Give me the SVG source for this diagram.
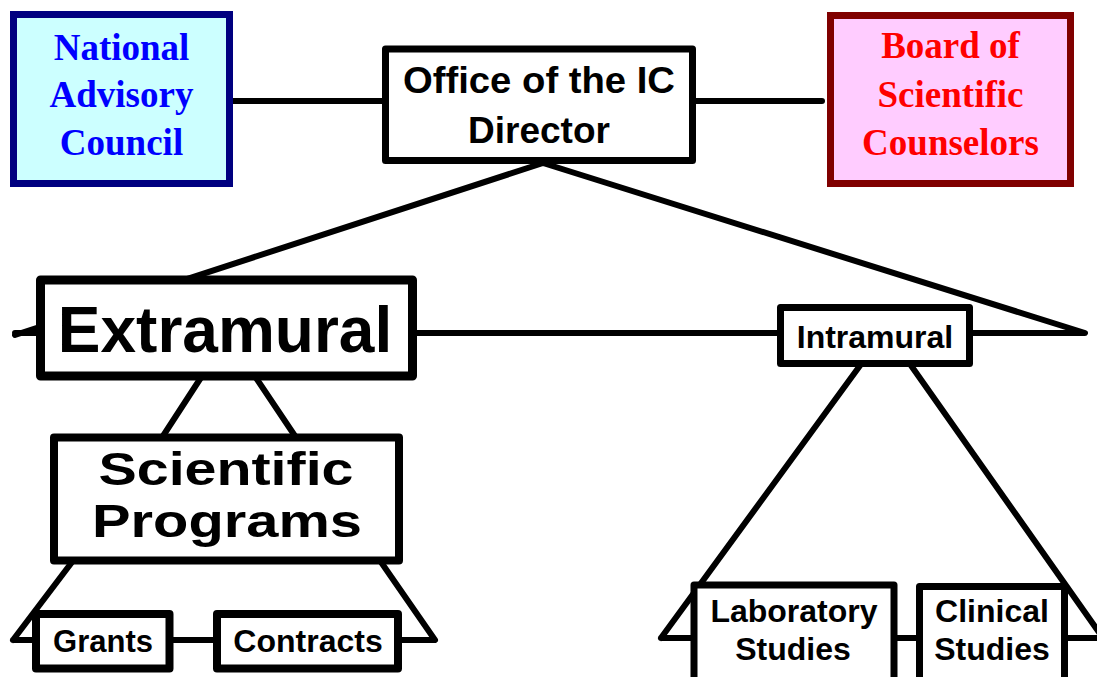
<svg xmlns="http://www.w3.org/2000/svg" width="1097" height="677" viewBox="0 0 1097 677">
<style>
.ln{stroke:#000;stroke-width:6;fill:none;stroke-linecap:round;stroke-linejoin:round}
.bx{fill:#fff;stroke:#000;stroke-linejoin:round}
.t{font-family:"Liberation Sans",Arial,sans-serif;font-weight:bold;fill:#000;text-anchor:middle}
.s{font-family:"Liberation Serif","Times New Roman",serif;font-weight:bold;text-anchor:middle}
</style>
<rect width="1097" height="677" fill="#fff"/>
<g id="connectors">
<line class="ln" x1="233" y1="101" x2="822" y2="101"/>
<polyline class="ln" points="15,335 543,163 1085,333 15,333"/>
<polyline class="ln" points="163,436 228,336 295,436"/>
<polyline class="ln" points="13,640 119,500 338,500 435,640 13,640"/>
<polyline class="ln" points="661,638 886,330 1103,638 661,638"/>
</g>
<g id="nac">
<rect x="13.5" y="14.5" width="216" height="169" fill="#ccffff" stroke="#000080" stroke-width="7"/>
<text class="s" fill="#0000ff" font-size="37" x="121.5" y="60">National</text>
<text class="s" fill="#0000ff" font-size="37" x="121.5" y="107">Advisory</text>
<text class="s" fill="#0000ff" font-size="37" x="121.5" y="155">Council</text>
</g>
<g id="bsc">
<rect x="830.5" y="15.5" width="240" height="168" fill="#ffccff" stroke="#800000" stroke-width="7"/>
<text class="s" fill="#ff0000" font-size="37" x="950.5" y="58">Board of</text>
<text class="s" fill="#ff0000" font-size="37" x="950.5" y="107">Scientific</text>
<text class="s" fill="#ff0000" font-size="37" x="950.5" y="155">Counselors</text>
</g>
<g id="office">
<rect class="bx" x="385.5" y="49" width="307" height="111.5" stroke-width="7"/>
<text class="t" font-size="37" x="539" y="93" textLength="272" lengthAdjust="spacingAndGlyphs">Office of the IC</text>
<text class="t" font-size="37" x="539" y="143">Director</text>
</g>
<g id="extramural">
<rect class="bx" x="40.5" y="280" width="372" height="96" stroke-width="9"/>
<text class="t" font-size="64" x="225" y="352">Extramural</text>
</g>
<g id="intramural">
<rect class="bx" x="780.5" y="307.5" width="189" height="56" stroke-width="7"/>
<text class="t" font-size="32" x="875" y="348">Intramural</text>
</g>
<g id="scientific-programs">
<rect class="bx" x="54" y="437.5" width="345" height="123" stroke-width="8"/>
<text class="t" font-size="46" x="226" y="485" textLength="255" lengthAdjust="spacingAndGlyphs">Scientific</text>
<text class="t" font-size="46" x="227" y="537" textLength="270" lengthAdjust="spacingAndGlyphs">Programs</text>
</g>
<g id="grants">
<rect class="bx" x="36" y="614" width="133.5" height="54.5" stroke-width="8"/>
<text class="t" font-size="31" x="103" y="652">Grants</text>
</g>
<g id="contracts">
<rect class="bx" x="217" y="614" width="181" height="54.5" stroke-width="8"/>
<text class="t" font-size="32" x="308" y="652">Contracts</text>
</g>
<g id="laboratory-studies">
<rect class="bx" x="694" y="585" width="200" height="120" stroke-width="7"/>
<text class="t" font-size="32" x="794" y="622">Laboratory</text>
<text class="t" font-size="32" x="793" y="660">Studies</text>
</g>
<g id="clinical-studies">
<rect class="bx" x="919.5" y="586.5" width="145" height="120" stroke-width="7"/>
<text class="t" font-size="32" x="992" y="622">Clinical</text>
<text class="t" font-size="32" x="992" y="660">Studies</text>
</g>
</svg>
